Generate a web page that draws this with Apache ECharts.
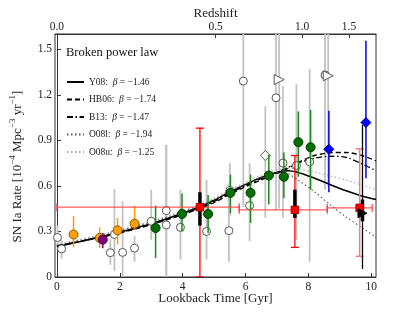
<!DOCTYPE html>
<html><head><meta charset="utf-8">
<script src="https://cdn.jsdelivr.net/npm/echarts@6/dist/echarts.min.js"></script>
<style>html,body{margin:0;padding:0;background:#fff}#c{width:415px;height:312px}</style>
</head><body><div id="c"></div>
<script>
// ---- tick labels ----
var xTicks = [0, 2, 4, 6, 8, 10];
var yTicks = [0, 0.3, 0.6, 0.9, 1.2, 1.5];
var zTickLabels = ['0.0', '0.5', '1.0', '1.5'];
var zTickLookback = [0, 5.05, 7.8, 9.29];

// ---- model curves (lookback time, rate) ----
var curveX = [0, 1, 2, 3, 4, 4.55, 5, 5.5, 6, 6.5, 7, 7.35, 7.65, 8.2, 8.7, 9.2, 9.7, 10.15];
var y08  = [0.200,0.245,0.295,0.350,0.420,0.462,0.505,0.560,0.610,0.655,0.688,0.700,0.690,0.650,0.608,0.568,0.534,0.510];
var hb06 = [0.205,0.245,0.290,0.345,0.410,0.452,0.490,0.545,0.595,0.640,0.683,0.715,0.752,0.800,0.818,0.820,0.800,0.765];
var b13  = [0.205,0.247,0.293,0.350,0.415,0.457,0.497,0.552,0.602,0.648,0.690,0.722,0.748,0.782,0.795,0.788,0.745,0.700];
var o08l = [0.210,0.255,0.305,0.362,0.430,0.472,0.512,0.565,0.612,0.655,0.688,0.680,0.641,0.560,0.475,0.395,0.325,0.262];
var o08u = [0.215,0.260,0.310,0.368,0.435,0.478,0.520,0.573,0.625,0.672,0.705,0.716,0.712,0.690,0.665,0.638,0.605,0.575];
var modelNames = ['Y08', 'HB06', 'B13', 'O08l', 'O08u'];
var modelBetas = ['\u22121.46', '\u22121.74', '\u22121.47', '\u22121.94', '\u22121.25'];

// ---- grey open circles ----
var greyX  = [0.02,0.15,1.70,1.83,2.09,2.47,3.00,3.48,3.48,3.93,4.76,5.47,5.50,6.13,5.93,6.97,7.19,7.62,8.04,8.53];
var greyY  = [0.26,0.185,0.16,0.28,0.162,0.19,0.367,0.437,0.343,0.327,0.30,0.305,0.57,0.47,1.29,1.18,0.75,0.734,0.758,1.33];
var greyLo = [0.18,0.12,0.08,0.04,0.0,0.10,0.246,0.0,0.0,0.114,0.114,0.10,0.40,0.235,0.46,0.44,0.39,0.245,0.10,0.575];
var greyHi = [0.34,0.24,0.25,0.58,0.50,0.27,0.575,0.87,0.87,0.575,0.64,0.62,0.75,0.75,1.70,1.70,1.256,1.27,1.37,1.70];
// open triangles
var triX = [7.07, 8.63], triY = [1.30, 1.325], triLo = [0.45, 0.60], triHi = [1.70, 1.70];
// open diamond
var diaX = [6.63], diaY = [0.80], diaLo = [0.39], diaHi = [1.125];
// orange
var orX = [0.53,1.36,1.93,2.47], orY = [0.28,0.257,0.307,0.351], orLo = [0.198,0.19,0.213,0.31], orHi = [0.40,0.327,0.389,0.47];
// purple
var puX = [1.46], puY = [0.246], puLo = [0.19], puHi = [0.29];
// green
var grX  = [3.14,3.98,4.81,5.52,6.16,6.74,7.22,7.68,8.07];
var grY  = [0.323,0.415,0.415,0.554,0.554,0.668,0.66,0.888,0.854];
var grLo = [0.125,0.30,0.29,0.42,0.356,0.477,0.52,0.66,0.575];
var grHi = [0.47,0.55,0.54,0.674,0.674,0.806,0.82,1.09,1.10];
// blue diamonds
var blX = [8.65, 9.83], blY = [0.841, 1.017], blLo = [0.558, 0.65], blHi = [1.094, 1.556];
// red squares
var rdX = [4.55, 7.57, 9.63], rdY = [0.46, 0.442, 0.455];
var rdXLo = [0.0, 5.8, 8.6], rdXHi = [5.8, 8.6, 10.03];
var rdLo = [0.0, 0.195, 0.136], rdHi = [0.98, 0.80, 0.844];
var rdSysLo = [0.338, 0.389], rdSysHi = [0.558, 0.575];
// black triangle
var bkX = [9.72], bkY = [0.42], bkLo = [0.053], bkHi = [1.0], bkSysLo = [0.367], bkSysHi = [0.51];

var FONT = 'Liberation Serif';
function zip(xs, ys) { return xs.map(function (x, i) { return [x, ys[i]]; }); }
function zip3(xs, a, b) { return xs.map(function (x, i) { return [x, a[i], b[i]]; }); }

function vBars(data, color, width, cap, z) {
  return {
    type: 'custom', data: data, z: z, clip: true, silent: true,
    encode: { x: 0, y: [1, 2] },
    renderItem: function (params, api) {
      var x = api.value(0), a = api.coord([x, api.value(1)]), b = api.coord([x, api.value(2)]);
      var st = { stroke: color, lineWidth: width };
      var ch = [{ type: 'line', shape: { x1: a[0], y1: a[1], x2: b[0], y2: b[1] }, style: st }];
      if (cap) {
        ch.push({ type: 'line', shape: { x1: a[0] - cap, y1: a[1], x2: a[0] + cap, y2: a[1] }, style: st });
        ch.push({ type: 'line', shape: { x1: b[0] - cap, y1: b[1], x2: b[0] + cap, y2: b[1] }, style: st });
      }
      return { type: 'group', children: ch };
    }
  };
}
function hBars(data, color, width, cap, z) {
  return {
    type: 'custom', data: data, z: z, clip: true, silent: true,
    encode: { x: [1, 2], y: 0 },
    renderItem: function (params, api) {
      var y = api.value(0), a = api.coord([api.value(1), y]), b = api.coord([api.value(2), y]);
      var st = { stroke: color, lineWidth: width };
      var ch = [{ type: 'line', shape: { x1: a[0], y1: a[1], x2: b[0], y2: b[1] }, style: st }];
      ch.push({ type: 'line', shape: { x1: a[0], y1: a[1] - cap, x2: a[0], y2: a[1] + cap }, style: st });
      ch.push({ type: 'line', shape: { x1: b[0], y1: b[1] - cap, x2: b[0], y2: b[1] + cap }, style: st });
      return { type: 'group', children: ch };
    }
  };
}
function pts(xs, ys, symbol, size, fill, edge, z, rot) {
  return {
    type: 'scatter', data: zip(xs, ys), symbol: symbol, symbolSize: size, symbolRotate: rot || 0, z: z, silent: true,
    itemStyle: { color: fill, borderColor: edge, borderWidth: 1, opacity: 1 }
  };
}
function model(name, ys, color, width, type) {
  return {
    type: 'line', name: name, data: zip(curveX, ys), symbol: 'none', showSymbol: false, smooth: 0.3, z: 3, silent: true,
    lineStyle: { color: color, width: width, type: type }, itemStyle: { color: color }
  };
}

var series = [
  vBars(zip3(greyX, greyLo, greyHi), '#c2c2c2', 1.8, 0, 1),
  vBars(zip3(triX, triLo, triHi), '#c2c2c2', 1.8, 0, 1),
  vBars(zip3(diaX, diaLo, diaHi), '#c2c2c2', 1.8, 0, 1),
  model('Y08', y08, '#000', 1.6, 'solid'),
  model('HB06', hb06, '#000', 1.4, [5, 3]),
  model('B13', b13, '#000', 1.3, [6, 2.5, 1.5, 2.5]),
  model('O08l', o08l, '#555', 1.1, [1.5, 2.5]),
  model('O08u', o08u, '#a8a8a8', 1.1, [1.5, 2.5]),
  pts(greyX, greyY, 'circle', 8, '#fff', '#555', 4),
  pts(triX, triY, 'triangle', 10, '#fff', '#555', 4, -90),
  pts(diaX, diaY, 'diamond', 10, '#fff', '#555', 4),
  vBars(zip3(orX, orLo, orHi), '#ff9900', 1.5, 0, 5),
  vBars(zip3(puX, puLo, puHi), '#800080', 1.5, 0, 5),
  vBars(zip3(grX, grLo, grHi), '#1a8a1a', 1.5, 0, 5),
  vBars(zip3(blX, blLo, blHi), '#0000ee', 1.5, 0, 5),
  pts(orX, orY, 'circle', 9, '#ffa000', '#8a5a00', 6),
  pts(puX, puY, 'circle', 9, '#800080', '#400040', 6),
  pts(grX, grY, 'circle', 9, '#007000', '#003800', 6),
  pts(blX, blY, 'diamond', 10, '#0000ff', '#000088', 6),
  hBars(zip3(rdY, rdXLo, rdXHi), 'rgba(255,60,60,0.85)', 1.4, 4, 7),
  vBars(zip3(rdX.slice(0, 2), rdLo.slice(0, 2), rdHi.slice(0, 2)), '#ff0000', 1.3, 4, 7),
  vBars(zip3(rdX.slice(2), rdLo.slice(2), rdHi.slice(2)), '#f08080', 1.5, 4, 7),
  vBars(zip3(bkX, bkLo, bkHi), '#000', 1.3, 0, 7),
  vBars(zip3(rdX.slice(0, 2), rdSysLo, rdSysHi), '#000', 3.5, 0, 8),
  vBars(zip3(bkX, bkSysLo, bkSysHi), '#000', 3.5, 0, 8),
  pts(rdX, rdY, 'rect', 7.5, '#ff0000', '#aa0000', 9),
  pts(bkX, bkY, 'triangle', 9, '#000', '#000', 9, -90)
];

var axisLineStyle = { color: '#333', width: 1 };
var labelStyle = { fontFamily: FONT, fontSize: 11.5, color: '#222' };
var chart = echarts.init(document.getElementById('c'), null, { renderer: 'canvas' });
chart.setOption({
  animation: false,
  backgroundColor: '#fff',
  textStyle: { fontFamily: FONT },
  title: { text: 'Broken power law', left: 61, top: 41, textStyle: { fontFamily: FONT, fontSize: 12.5, fontWeight: 'normal', color: '#111' } },
  legend: {
    left: 61, top: 72, orient: 'vertical', itemWidth: 17, itemHeight: 10, itemGap: 7.5,
    data: modelNames,
    itemStyle: { opacity: 0 },
    formatter: function (n) { var i = modelNames.indexOf(n); return '{t|' + n + ':  }{i|\u03b2}{t| = ' + modelBetas[i] + '}'; },
    textStyle: { fontFamily: FONT, fontSize: 9, color: '#222', rich: { t: { fontFamily: FONT, fontSize: 9.5, color: '#222' }, i: { fontFamily: FONT, fontSize: 9.5, fontStyle: 'italic', color: '#222' } } }
  },
  grid: { left: 55, right: 39, top: 34, bottom: 35, show: true, borderColor: '#333', borderWidth: 1, outerBoundsMode: 'none', containLabel: false },
  xAxis: [{
    type: 'value', min: -0.06, max: 10.15, position: 'bottom',
    name: 'Lookback Time [Gyr]', nameLocation: 'middle', nameGap: 15, nameMoveOverlap: false,
    nameTextStyle: { fontFamily: FONT, fontSize: 13, color: '#222' },
    axisLine: { show: true, lineStyle: axisLineStyle },
    axisTick: { show: true, inside: true, length: 4, customValues: xTicks, lineStyle: axisLineStyle },
    axisLabel: Object.assign({ customValues: xTicks, margin: 4 }, labelStyle),
    splitLine: { show: false }
  }, {
    type: 'value', min: -0.06, max: 10.15, position: 'top',
    name: 'Redshift', nameLocation: 'middle', nameGap: 14, nameMoveOverlap: false,
    nameTextStyle: { fontFamily: FONT, fontSize: 13, color: '#222' },
    axisLine: { show: true, lineStyle: axisLineStyle },
    axisTick: { show: true, inside: true, length: 4, customValues: zTickLookback, lineStyle: axisLineStyle },
    axisLabel: Object.assign({
      customValues: zTickLookback, margin: 1,
      formatter: function (v) { var best = 0; zTickLookback.forEach(function (t, i) { if (Math.abs(t - v) < Math.abs(zTickLookback[best] - v)) best = i; }); return zTickLabels[best]; }
    }, labelStyle),
    splitLine: { show: false }
  }],
  yAxis: {
    type: 'value', min: 0, max: 1.6,
    name: '{b|SN Ia Rate [10}{s|\u22124}{b| Mpc}{s|\u22123}{b| yr}{s|\u22121}{b|]}', nameLocation: 'middle', nameGap: 31, nameMoveOverlap: false,
    nameTextStyle: { fontFamily: FONT, fontSize: 13, color: '#222', padding: [0, 22, 0, 0],
      rich: { b: { fontFamily: FONT, fontSize: 13, color: '#222', lineHeight: 16, verticalAlign: 'bottom' },
              s: { fontFamily: FONT, fontSize: 9, color: '#222', lineHeight: 16, verticalAlign: 'top' } } },
    axisLine: { show: true, lineStyle: axisLineStyle },
    axisTick: { show: true, inside: true, length: 4, customValues: yTicks, lineStyle: axisLineStyle },
    axisLabel: Object.assign({ customValues: yTicks, margin: 3, formatter: function (v) { return v === 0 ? '0' : v.toFixed(1); } }, labelStyle),
    splitLine: { show: false }
  },
  series: series
});
</script></body></html>
